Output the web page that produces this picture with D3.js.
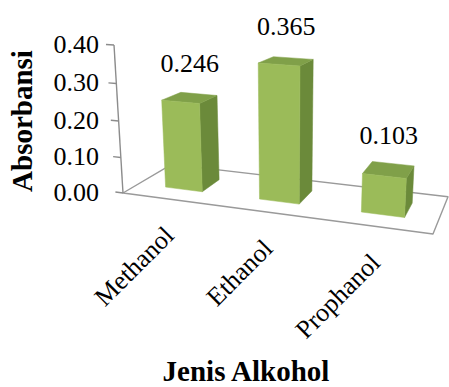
<!DOCTYPE html>
<html>
<head>
<meta charset="utf-8">
<script src="https://cdn.jsdelivr.net/npm/d3@7"></script>
<style>
  html, body { margin: 0; padding: 0; background: #ffffff; }
  svg { display: block; }
  text { font-family: "Liberation Serif", "Times New Roman", serif; fill: #000; }
</style>
</head>
<body>
<svg id="chart" width="449" height="387"></svg>
<script>
// ---- data ----
const categories = ["Methanol", "Ethanol", "Prophanol"];
const absorbance = [0.246, 0.365, 0.103];
const valueTicks = [0, 0.1, 0.2, 0.3, 0.4];
const valueMax = 0.4;
const seriesName = "Absorbansi";
const yTitle = "Absorbansi";
const xTitle = "Jenis Alkohol";

// ---- scales in unit-box coordinates (u across, t up, w into depth) ----
const xScale = d3.scaleBand().domain(categories).range([0, 1])
  .paddingInner(0.6).paddingOuter(0.3);
const yScale = d3.scaleLinear().domain([0, valueMax]).range([0, 1]);
const zScale = d3.scaleBand().domain([seriesName]).range([0, 1])
  .paddingInner(0).paddingOuter(0.75);

// ---- perspective view of the unit box ----
// Each axis is given by the screen point of its far end and a perspective
// weight; the origin is the front-left floor corner.
const view = {
  origin: [123, 193],
  uEnd: [433, 234], uWeight: 0.88,
  tEnd: [114, 45], tWeight: 0.9474,
  wEnd: [171.6, 164.4], wWeight: 1.128
};
function column(end, k) {
  return [k * end[0] - view.origin[0], k * end[1] - view.origin[1], k - 1];
}
const U = column(view.uEnd, view.uWeight);
const T = column(view.tEnd, view.tWeight);
const W = column(view.wEnd, view.wWeight);
function project(u, t, w) {
  const X = view.origin[0] + u * U[0] + t * T[0] + w * W[0];
  const Y = view.origin[1] + u * U[1] + t * T[1] + w * W[1];
  const H = 1 + u * U[2] + t * T[2] + w * W[2];
  return [X / H, Y / H];
}
const polyPath = pts => "M" + pts.map(p => project(...p).map(v => v.toFixed(2)).join(",")).join("L") + "Z";

const svg = d3.select("#chart");
const gridColor = "#8c8c8c";

// ---- floor ----
svg.append("path")
  .attr("d", polyPath([[0, 0, 0], [1, 0, 0], [1, 0, 1], [0, 0, 1]]))
  .attr("fill", "none")
  .attr("stroke", "#9a9a9a")
  .attr("stroke-width", 1.4)
  .attr("stroke-linejoin", "round");

// ---- value axis ----
const axisG = svg.append("g");
const a0 = project(0, 0, 0), a1 = project(0, 1, 0);
axisG.append("line")
  .attr("x1", a0[0]).attr("y1", a0[1]).attr("x2", a1[0]).attr("y2", a1[1])
  .attr("stroke", gridColor).attr("stroke-width", 1.4);
const tickLen = 0.028;
const tickData = valueTicks.map(v => ({
  v, inner: project(0, yScale(v), 0), outer: project(-tickLen, yScale(v), 0)
}));
axisG.selectAll("line.tick").data(tickData).join("line")
  .attr("class", "tick")
  .attr("x1", d => d.inner[0]).attr("y1", d => d.inner[1])
  .attr("x2", d => d.outer[0]).attr("y2", d => d.outer[1])
  .attr("stroke", gridColor).attr("stroke-width", 1.4);
const labelRight = d3.min(tickData, d => d.outer[0]) - 7;
const fmt = d3.format(".2f");
axisG.selectAll("text.tickLabel").data(tickData).join("text")
  .attr("class", "tickLabel")
  .attr("x", labelRight)
  .attr("y", d => d.outer[1])
  .attr("dy", "0.33em")
  .attr("text-anchor", "end")
  .style("font-size", "26px")
  .text(d => fmt(d.v));

// ---- bars ----
const bars = categories.map((c, i) => ({
  name: c,
  value: absorbance[i],
  u0: xScale(c), u1: xScale(c) + xScale.bandwidth(),
  w0: zScale(seriesName), w1: zScale(seriesName) + zScale.bandwidth(),
  t1: yScale(absorbance[i])
}));
const faceColors = { side: "#6b8a3a", top: "#80a049", front: "#9bbb59" };
const barG = svg.selectAll("g.bar").data(bars).join("g").attr("class", "bar");
barG.append("path").attr("d", b => polyPath([[b.u1, 0, b.w0], [b.u1, 0, b.w1], [b.u1, b.t1, b.w1], [b.u1, b.t1, b.w0]]))
  .attr("fill", faceColors.side).attr("stroke", faceColors.side).attr("stroke-width", 0.5);
barG.append("path").attr("d", b => polyPath([[b.u0, b.t1, b.w0], [b.u1, b.t1, b.w0], [b.u1, b.t1, b.w1], [b.u0, b.t1, b.w1]]))
  .attr("fill", faceColors.top).attr("stroke", faceColors.top).attr("stroke-width", 0.5);
barG.append("path").attr("d", b => polyPath([[b.u0, 0, b.w0], [b.u1, 0, b.w0], [b.u1, b.t1, b.w0], [b.u0, b.t1, b.w0]]))
  .attr("fill", faceColors.front).attr("stroke", faceColors.front).attr("stroke-width", 0.5);

// ---- value labels above the bars ----
const valFmt = d3.format(".3f");
svg.selectAll("text.valueLabel").data(bars).join("text")
  .attr("class", "valueLabel")
  .attr("x", b => project((b.u0 + b.u1) / 2, b.t1, (b.w0 + b.w1) / 2)[0])
  .attr("y", b => project((b.u0 + b.u1) / 2, b.t1, (b.w0 + b.w1) / 2)[1] - 26)
  .attr("text-anchor", "middle")
  .style("font-size", "26px")
  .text(b => valFmt(b.value));

// ---- category labels ----
svg.selectAll("text.catLabel").data(bars).join("text")
  .attr("class", "catLabel")
  .attr("transform", b => {
    const p = project((b.u0 + b.u1) / 2, 0, 0);
    return `translate(${p[0] + 6},${p[1] + 38}) rotate(-45)`;
  })
  .attr("text-anchor", "end")
  .style("font-size", "26px")
  .text(b => b.name);

// ---- axis titles ----
svg.append("text")
  .attr("transform", "translate(32,121) rotate(-90)")
  .attr("text-anchor", "middle")
  .style("font-size", "29px").style("font-weight", "bold")
  .text(yTitle);
svg.append("text")
  .attr("x", 246).attr("y", 381)
  .attr("text-anchor", "middle")
  .style("font-size", "29px").style("font-weight", "bold")
  .text(xTitle);
</script>
</body>
</html>
